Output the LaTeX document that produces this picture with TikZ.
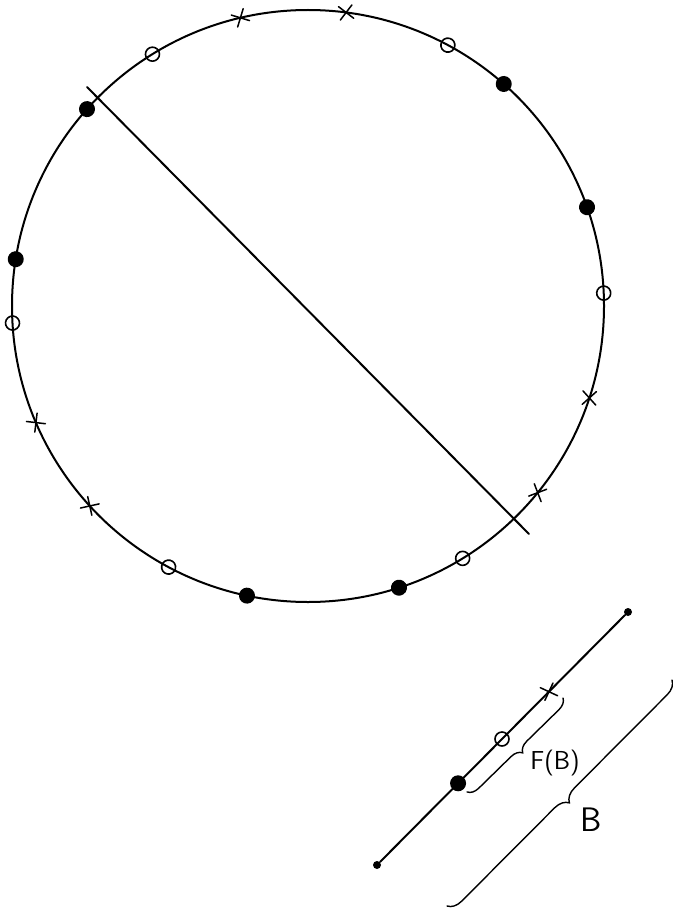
\documentclass[tikz,border=0pt]{standalone}
\usepackage{fontspec}
\usetikzlibrary{shapes.misc,decorations.pathreplacing,calc}
\begin{document}
\begin{tikzpicture}[x=1pt,y=-1pt,
  line cap=round,
  dotf/.style={circle,fill=black,inner sep=0pt,minimum size=16pt},
  doto/.style={circle,draw=black,line width=1.6pt,inner sep=0pt,minimum size=14pt},
  crs/.style={cross out,draw=black,line width=1.5pt,inner sep=0pt,minimum size=12pt},
  enddot/.style={circle,fill=black,inner sep=0pt,minimum size=8pt},
  bracestyle/.style={line width=1.4pt,decorate,decoration={brace,amplitude=#1}},
  lbl/.style={inner sep=0pt,font=\sffamily}]
\useasboundingbox (0,0) rectangle (672,912);
\coordinate (c) at (308,306);
\draw[line width=2pt] (c) circle[radius=296];
% chord
\coordinate (ch1) at (87,87);
\coordinate (ch2) at (529,534);
\draw[line width=2pt] (ch1) -- (ch2);
% markers on the circle
\foreach \a/\t [count=\i] in {82.6/crs,103.2/crs,121.7/doto,61.8/doto,138.3/dotf,48.6/dotf,19.5/dotf,2.5/doto,170.9/dotf,183.3/doto,203.2/crs,222.5/crs,241.9/doto,258.1/dotf,287.9/dotf,301.5/doto,320.9/crs,341.9/crs}
  \path (c) ++(-\a:296) node[\t,rotate=\a+15] (m\i) {};
% segment at the bottom right
\node[enddot] (e1) at (377,865) {};
\node[enddot] (e2) at (628,612) {};
\draw[line width=2pt] (e1) -- (e2);
\node[dotf] (s1) at ($(e1)!0.323!(e2)$) {};
\node[doto] (s2) at ($(e1)!0.498!(e2)$) {};
\node[crs,rotate=20] (s3) at ($(e1)!0.685!(e2)$) {};
% braces
\coordinate (fb1) at (563,698);
\coordinate (fb2) at (467,792);
\draw[bracestyle=11pt] (fb1) -- (fb2);
\coordinate (bb1) at (672,680);
\coordinate (bb2) at (447,906);
\draw[bracestyle=14pt] (bb1) -- (bb2);
\node[lbl,font=\sffamily\fontsize{26}{26}\selectfont] (lf) at (555,763) {F(B)};
\node[lbl,font=\sffamily\fontsize{34}{34}\selectfont] (lb) at (591,820) {B};
\end{tikzpicture}
\end{document}
